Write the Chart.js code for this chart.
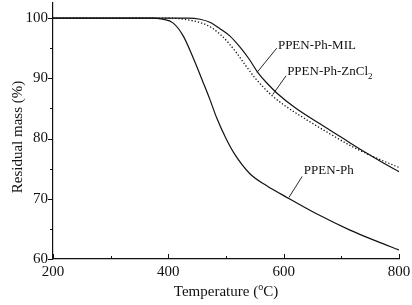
<!DOCTYPE html>
<html>
<head>
<meta charset="utf-8">
<script src="https://cdn.jsdelivr.net/npm/chart.js@4"></script>
<style>
  html, body { margin: 0; padding: 0; background: #fff; }
  #wrap { width: 412px; height: 305px; }
</style>
</head>
<body>
<div id="wrap"><canvas id="tga"></canvas></div>
<script>
// --- data ---
const tempPh = [200, 370, 390, 408, 426, 443, 460, 472, 484, 500, 515, 541, 570, 608, 657, 715, 760, 800];
const massPh = [100, 100, 99.8, 99.2, 97.0, 93.4, 89.4, 86.5, 83.4, 80.0, 77.4, 74.2, 72.2, 70.1, 67.5, 64.8, 63.0, 61.5];

const tempMIL = [200, 435, 455, 472, 490, 507, 524, 540, 555, 570, 590, 620, 660, 700, 740, 770, 800];
const massMIL = [100, 100, 99.8, 99.3, 98.2, 97.0, 95.2, 93.2, 91.0, 89.3, 87.4, 85.1, 82.6, 80.2, 77.8, 76.1, 74.5];

const tempZn = [200, 395, 420, 440, 460, 475, 490, 505, 520, 535, 550, 565, 580, 600, 640, 680, 720, 760, 800];
const massZn = [100, 100, 99.9, 99.6, 99.1, 98.4, 97.3, 95.8, 94.0, 92.0, 90.1, 88.5, 87.1, 85.6, 83.1, 80.8, 78.6, 76.8, 75.2];

const xMajor = [200, 400, 600, 800];
const xMinor = [300, 500, 700];
const yMajor = [60, 70, 80, 90, 100];
const yMinor = [65, 75, 85, 95];

// curve labels: text anchor + leader line, in data units
const curveLabels = [
  { text: 'PPEN-Ph-MIL', sub: '', at: [590, 95.4], from: [588, 95.0], to: [554, 91.0] },
  { text: 'PPEN-Ph-ZnCl', sub: '2', at: [606, 91.1], from: [604, 90.4], to: [581, 87.3] },
  { text: 'PPEN-Ph', sub: '', at: [635, 74.6], from: [632, 73.7], to: [609, 70.2] },
];

const FONT = '"Liberation Serif", "Times New Roman", serif';
const pairs = (xs, ys) => xs.map((x, i) => ({ x, y: ys[i] }));

// ticks, axis titles and curve labels
const decor = {
  id: 'decor',
  afterDraw(chart) {
    const { ctx, chartArea: a, scales: { x, y } } = chart;
    ctx.save();
    ctx.strokeStyle = '#111';
    ctx.lineWidth = 1;
    ctx.beginPath();
    yMajor.forEach(v => { const p = Math.round(y.getPixelForValue(v)) + 0.5; ctx.moveTo(a.left - 5, p); ctx.lineTo(a.left, p); });
    yMinor.forEach(v => { const p = Math.round(y.getPixelForValue(v)) + 0.5; ctx.moveTo(a.left - 3, p); ctx.lineTo(a.left, p); });
    xMajor.forEach(v => { const p = Math.round(x.getPixelForValue(v)) + 0.5; ctx.moveTo(p, a.bottom); ctx.lineTo(p, a.bottom - 5); });
    xMinor.forEach(v => { const p = Math.round(x.getPixelForValue(v)) + 0.5; ctx.moveTo(p, a.bottom); ctx.lineTo(p, a.bottom - 3); });
    ctx.stroke();

    // leaders
    ctx.lineWidth = 0.9;
    ctx.beginPath();
    curveLabels.forEach(l => {
      ctx.moveTo(x.getPixelForValue(l.from[0]), y.getPixelForValue(l.from[1]));
      ctx.lineTo(x.getPixelForValue(l.to[0]), y.getPixelForValue(l.to[1]));
    });
    ctx.stroke();

    ctx.fillStyle = '#111';
    ctx.textBaseline = 'middle';
    ctx.textAlign = 'left';
    curveLabels.forEach(l => {
      const px = x.getPixelForValue(l.at[0]);
      const py = y.getPixelForValue(l.at[1]);
      ctx.font = '13px ' + FONT;
      ctx.fillText(l.text, px, py);
      if (l.sub) {
        const w = ctx.measureText(l.text).width;
        ctx.font = '9px ' + FONT;
        ctx.fillText(l.sub, px + w, py + 5);
      }
    });

    // y title
    ctx.font = '15px ' + FONT;
    ctx.textAlign = 'center';
    ctx.save();
    ctx.translate(18, (a.top + a.bottom) / 2 + 6);
    ctx.rotate(-Math.PI / 2);
    ctx.fillText('Residual mass (%)', 0, 0);
    ctx.restore();

    // x title with superscript o
    const t1 = 'Temperature (', t2 = 'C)';
    ctx.textAlign = 'left';
    const w1 = ctx.measureText(t1).width;
    ctx.font = '10px ' + FONT;
    const wo = ctx.measureText('o').width;
    ctx.font = '15px ' + FONT;
    const w2 = ctx.measureText(t2).width;
    let sx = (a.left + a.right) / 2 - (w1 + wo + w2) / 2;
    const sy = 292;
    ctx.fillText(t1, sx, sy);
    ctx.font = '10px ' + FONT;
    ctx.fillText('o', sx + w1, sy - 5);
    ctx.font = '15px ' + FONT;
    ctx.fillText(t2, sx + w1 + wo, sy);
    ctx.restore();
  }
};

const lineStyle = { borderColor: '#111', borderWidth: 1.2, pointRadius: 0, fill: false, cubicInterpolationMode: 'monotone' };

new Chart(document.getElementById('tga'), {
  type: 'line',
  data: {
    datasets: [
      { label: 'PPEN-Ph', data: pairs(tempPh, massPh), ...lineStyle },
      { label: 'PPEN-Ph-MIL', data: pairs(tempMIL, massMIL), ...lineStyle },
      { label: 'PPEN-Ph-ZnCl2', data: pairs(tempZn, massZn), ...lineStyle, borderWidth: 1.3, borderDash: [1.3, 2] },
    ]
  },
  options: {
    responsive: true,
    maintainAspectRatio: false,
    animation: false,
    layout: { padding: { left: 0, right: 13, top: 3, bottom: 0 } },
    plugins: { legend: { display: false }, tooltip: { enabled: false } },
    scales: {
      x: {
        type: 'linear', min: 200, max: 800,
        afterBuildTicks: s => { s.ticks = xMajor.map(v => ({ value: v })); },
        afterFit: s => { s.height = 46; s.paddingLeft = 0; s.paddingRight = 0; },
        grid: { display: false, drawTicks: false },
        border: { display: true, color: '#111', width: 1.2 },
        ticks: { color: '#111', font: { family: FONT, size: 15 }, padding: 4, maxRotation: 0 }
      },
      y: {
        type: 'linear', min: 60, max: 102.5,
        afterBuildTicks: s => { s.ticks = yMajor.map(v => ({ value: v })); },
        afterFit: s => { s.width = 53; s.paddingTop = 0; s.paddingBottom = 0; },
        grid: { display: false, drawTicks: false },
        border: { display: true, color: '#111', width: 1.2 },
        ticks: { color: '#111', font: { family: FONT, size: 15 }, padding: 5 }
      }
    }
  },
  plugins: [decor]
});
</script>
</body>
</html>
